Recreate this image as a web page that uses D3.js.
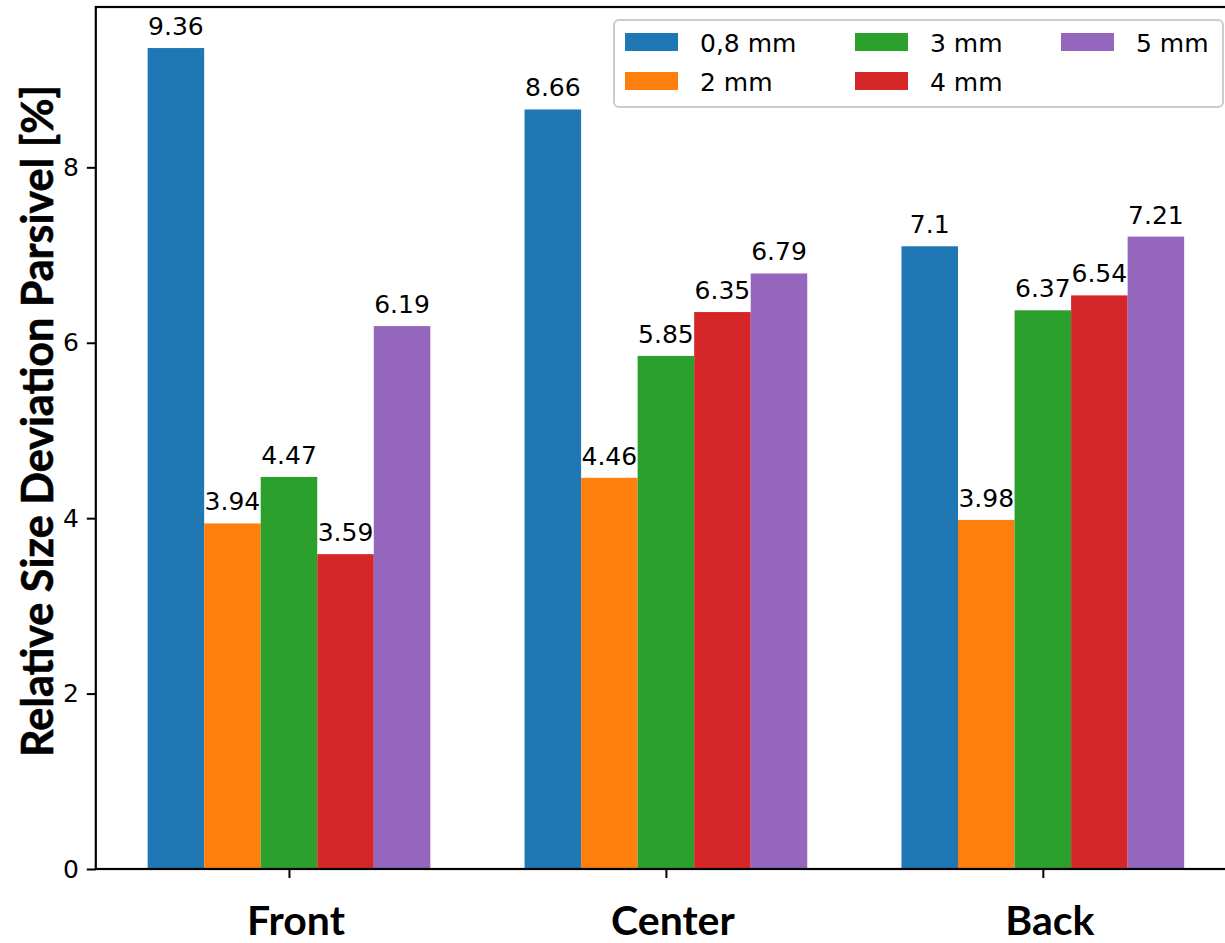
<!DOCTYPE html>
<html>
<head>
<meta charset="utf-8">
<script src="https://cdn.jsdelivr.net/npm/d3@7"></script>
<style>
  html, body { margin: 0; padding: 0; background: #fff; }
  svg { display: block; }
</style>
</head>
<body>
<svg id="chart" width="1225" height="943"></svg>
<script>
const categories = ["Front", "Center", "Back"];
const seriesNames = ["0,8 mm", "2 mm", "3 mm", "4 mm", "5 mm"];
const seriesColors = ["#1f77b4", "#ff7f0e", "#2ca02c", "#d62728", "#9467bd"];
const values_08mm = [9.36, 8.66, 7.1];
const values_2mm = [3.94, 4.46, 3.98];
const values_3mm = [4.47, 5.85, 6.37];
const values_4mm = [3.59, 6.35, 6.54];
const values_5mm = [6.19, 6.79, 7.21];
const seriesValues = [values_08mm, values_2mm, values_3mm, values_4mm, values_5mm];
const yTicks = [0, 2, 4, 6, 8];
const yTitle = "Relative Size Deviation Parsivel [%]";

(function () {
const svg = d3.select("#chart");
const pLeft = 95.8, pRight = 1236, pTop = 7, pBottom = 869;
const barW = 0.15;
const xLin = d3.scaleLinear().domain([-0.5125, 2.5125]).range([pLeft, pRight]);
const y = d3.scaleLinear().domain([0, 9.828]).range([pBottom, pTop]);
const unit = xLin(1) - xLin(0);

// bars
seriesValues.forEach((vals, si) => {
  const off = (si - 2) * barW;
  const g = svg.append("g");
  g.selectAll("rect").data(vals).enter().append("rect")
    .attr("x", (d, i) => xLin(i + off - barW / 2))
    .attr("width", barW * unit)
    .attr("y", d => y(d))
    .attr("height", d => y(0) - y(d))
    .attr("fill", seriesColors[si]);
});
seriesValues.forEach((vals, si) => {
  const off = (si - 2) * barW;
  const g = svg.append("g");
  g.selectAll("text").data(vals).enter().append("text")
    .attr("x", (d, i) => xLin(i + off))
    .attr("y", d => y(d) - 13)
    .attr("text-anchor", "middle")
    .attr("font-family", "DejaVu Sans")
    .attr("font-size", 25)
    .attr("fill", "#000")
    .text(d => String(d));
});

// y axis
const yAxis = d3.axisLeft(y).tickValues(yTicks).tickSize(9).tickPadding(8).tickFormat(d3.format("d"));
const yg = svg.append("g").attr("transform", `translate(${pLeft},0)`).call(yAxis);
yg.select(".domain").remove();
yg.selectAll(".tick line").attr("stroke", "#000").attr("stroke-width", 2);
yg.selectAll(".tick text").attr("font-family", "DejaVu Sans").attr("font-size", 25).attr("fill", "#000");

// x axis
const xAxis = d3.axisBottom(xLin).tickValues([0, 1, 2]).tickSize(9).tickFormat(() => "");
const xg = svg.append("g").attr("transform", `translate(0,${pBottom})`).call(xAxis);
xg.select(".domain").remove();
xg.selectAll(".tick line").attr("stroke", "#000").attr("stroke-width", 2);

categories.forEach((c, i) => {
  svg.append("text")
    .attr("x", xLin(i) + 7)
    .attr("y", 935)
    .attr("text-anchor", "middle")
    .attr("font-family", "Lato")
    .attr("font-weight", "bold")
    .attr("font-size", 41)
    .attr("fill", "#000")
    .text(c);
});

// spines
svg.append("rect")
  .attr("x", pLeft).attr("y", pTop)
  .attr("width", pRight - pLeft).attr("height", pBottom - pTop)
  .attr("fill", "none").attr("stroke", "#000").attr("stroke-width", 2.2);

// y title
svg.append("text")
  .attr("transform", "translate(53,421) rotate(-90)")
  .attr("text-anchor", "middle")
  .attr("font-family", "Lato")
  .attr("font-weight", "bold")
  .attr("font-size", 43)
  .attr("textLength", 672)
  .attr("lengthAdjust", "spacingAndGlyphs")
  .attr("fill", "#000")
  .attr("stroke", "#000")
  .attr("stroke-width", 0.6)
  .text(yTitle);

// legend
const lg = svg.append("g");
lg.append("rect")
  .attr("x", 614).attr("y", 20).attr("width", 609).attr("height", 87)
  .attr("rx", 5).attr("ry", 5)
  .attr("fill", "#fff").attr("fill-opacity", 0.8)
  .attr("stroke", "#cccccc").attr("stroke-width", 2);
const colX = [625, 855, 1061];
const rowY = [33, 72];
seriesNames.forEach((n, i) => {
  const col = Math.floor(i / 2), row = i % 2;
  lg.append("rect")
    .attr("x", colX[col]).attr("y", rowY[row])
    .attr("width", 53).attr("height", 18)
    .attr("fill", seriesColors[i]);
  lg.append("text")
    .attr("x", colX[col] + 75).attr("y", rowY[row] + 18.5)
    .attr("font-family", "DejaVu Sans")
    .attr("font-size", 25)
    .attr("fill", "#000")
    .text(n);
});
})();
</script>
</body>
</html>
